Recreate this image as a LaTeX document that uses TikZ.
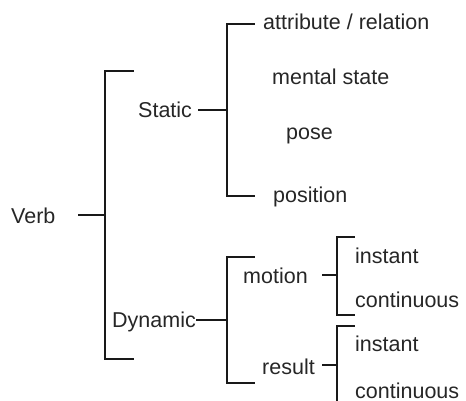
\documentclass[tikz,border=0pt]{standalone}
\usepackage{fontspec}
\setmainfont{Liberation Sans}
\begin{document}
\begin{tikzpicture}[x=1pt,y=-1pt,
  lbl/.style={anchor=base west,inner sep=0pt,font=\fontsize{21.5}{25}\selectfont,text=black!85},
  brace/.style={line width=1.9pt,black!90,line cap=rect},
  stub/.style={line width=1.9pt,black!90}]
\useasboundingbox (0,0) rectangle (466,401);
% labels
\node[lbl] (verb) at (11,223) {Verb};
\node[lbl] (static) at (138,118) {Static};
\node[lbl] (dynamic) at (112,327) {Dynamic};
\node[lbl] (attr) at (263,30) {attribute / relation};
\node[lbl] (mental) at (272,85) {mental state};
\node[lbl] (pose) at (286,140) {pose};
\node[lbl] (position) at (273,203) {position};
\node[lbl] (motion) at (243,283) {motion};
\node[lbl] (result) at (262,374) {result};
\node[lbl] (minst) at (355,263) {instant};
\node[lbl] (mcont) at (355,307) {continuous};
\node[lbl] (rinst) at (355,351) {instant};
\node[lbl] (rcont) at (355,398) {continuous};
% bracket corners
\coordinate (vT) at (133,71);  \coordinate (vB) at (133,359);
\coordinate (vX) at (105,215); \coordinate (vS) at (78,215);
\coordinate (sT) at (254,24);  \coordinate (sB) at (254,196);
\coordinate (sX) at (227,110);
\coordinate (dT) at (254,257); \coordinate (dB) at (254,383);
\coordinate (dX) at (227,320);
\coordinate (mT) at (354,237); \coordinate (mB) at (354,315);
\coordinate (mX) at (337,275); \coordinate (mS) at (322,275);
\coordinate (rT) at (354,326); \coordinate (rB) at (337,405);
\coordinate (rX) at (337,365); \coordinate (rS) at (322,365);
% Verb
\draw[brace] (vT) -| (vX) |- (vB);
\draw[stub] (vS) -- (vX);
% Static
\draw[brace] (sT) -| (sX) |- (sB);
\draw[stub] (static.east |- sX) ++(6,0) -- (sX);
% Dynamic
\draw[brace] (dT) -| (dX) |- (dB);
\draw[stub] (dynamic.east |- dX) -- (dX);
% motion
\draw[brace] (mT) -| (mX) |- (mB);
\draw[stub] (mS) -- (mX);
% result
\draw[brace] (rT) -| (rX) -- (rB);
\draw[stub] (rS) -- (rX);
\end{tikzpicture}
\end{document}
